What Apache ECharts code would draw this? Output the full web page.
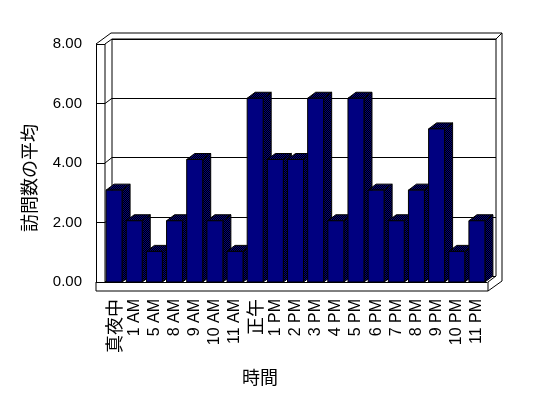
<!DOCTYPE html>
<html>
<head>
<meta charset="utf-8">
<script src="https://cdn.jsdelivr.net/npm/echarts@6/dist/echarts.min.js"></script>
<style>
  html, body { margin: 0; padding: 0; background: #fff; }
  #main { width: 548px; height: 398px; }
</style>
</head>
<body>
<div id="main"></div>
<script>
var categories = ['真夜中', '1 AM', '5 AM', '8 AM', '9 AM', '10 AM', '11 AM', '正午', '1 PM', '2 PM',
  '3 PM', '4 PM', '5 PM', '6 PM', '7 PM', '8 PM', '9 PM', '10 PM', '11 PM'];
var visits = [3, 2, 1, 2, 4, 2, 1, 6, 4, 4, 6, 2, 6, 3, 2, 3, 5, 1, 2];
var yTicks = [0, 2, 4, 6, 8];

var chart = echarts.init(document.getElementById('main'));

// dithered navy/black like the old 3d side faces
var cv = document.createElement('canvas');
cv.width = 2; cv.height = 2;
var cx = cv.getContext('2d');
cx.fillStyle = '#000000'; cx.fillRect(0, 0, 2, 2);
cx.fillStyle = '#000080'; cx.fillRect(0, 0, 1, 1); cx.fillRect(1, 1, 1, 1);
var dither = { image: cv, repeat: 'repeat' };

var font = 'Liberation Sans, Arial, sans-serif';
var cjk = 'Noto Sans CJK JP, sans-serif';

function renderBar(params, api) {
  var base = api.coord([api.value(0), 0]);
  var top = api.coord([api.value(0), api.value(1)]);
  var w = 16, dx = 8, dy = 6;
  var x0 = top[0] - w / 2, x1 = top[0] + w / 2;
  var yt = top[1], yb = base[1];
  return {
    type: 'group',
    children: [
      { type: 'polygon', shape: { points: [[x1, yt], [x1 + dx, yt - dy], [x1 + dx, yb - dy], [x1, yb]] },
        style: { fill: dither, stroke: '#000', lineWidth: 1 } },
      { type: 'polygon', shape: { points: [[x0, yt], [x1, yt], [x1 + dx, yt - dy], [x0 + dx, yt - dy]] },
        style: { fill: dither, stroke: '#000', lineWidth: 1 } },
      { type: 'rect', shape: { x: x0, y: yt, width: w, height: yb - yt },
        style: { fill: '#000080', stroke: '#000', lineWidth: 1 } }
    ]
  };
}

var option = {
  animation: false,
  grid: [
    { left: 104, top: 37, width: 383, height: 245 },   // bars
    { left: 112, top: 39, width: 384, height: 237 },   // back wall
    { left: 96, top: 44, width: 9, height: 238 }       // front axis
  ],
  xAxis: [
    {
      gridIndex: 0, type: 'category', data: categories,
      axisLine: { lineStyle: { color: '#000', width: 1 } },
      axisTick: { length: 9, lineStyle: { color: '#000' } },
      axisLabel: {
        interval: 0, rotate: 90, margin: 17, color: '#000', fontSize: 16, fontFamily: font,
        formatter: function (v) { return /[^\x00-\x7f]/.test(v) ? '{c|' + v + '}' : v; },
        rich: { c: { fontFamily: cjk, fontSize: 18, color: '#000' } }
      }
    },
    { gridIndex: 1, type: 'value', show: false },
    { gridIndex: 2, type: 'value', show: false }
  ],
  yAxis: [
    { gridIndex: 0, type: 'value', min: 0, max: 8, interval: 2, show: false },
    {
      gridIndex: 1, type: 'value', min: 0, max: 8, interval: 2,
      axisLine: { show: false }, axisTick: { show: false }, axisLabel: { show: false },
      splitLine: { show: true, lineStyle: { color: '#000', width: 1 } }
    },
    {
      gridIndex: 2, type: 'value', min: 0, max: 8, interval: 2,
      axisLine: { show: true, lineStyle: { color: '#000', width: 1 } },
      axisTick: { show: true, inside: true, length: 9, lineStyle: { color: '#000' } },
      splitLine: { show: false },
      axisLabel: { margin: 14, color: '#000', fontSize: 15, fontFamily: font,
        formatter: function (v) { return v.toFixed(2); } }
    }
  ],
  series: [
    {
      type: 'custom', xAxisIndex: 0, yAxisIndex: 0,
      renderItem: renderBar,
      data: visits.map(function (v, i) { return [i, v]; }),
      z: 5
    }
  ]
};
chart.setOption(option);

// frame of walls / floor, plus the left-wall diagonals at each tick
var ln = { stroke: '#000', lineWidth: 1 };
var frame = [
  [[96, 282], [96, 291], [488, 291], [488, 282]],
  [[96, 44], [111, 33], [502, 33], [502, 281], [488, 291]],
  [[112, 39], [496, 39], [496, 276], [488, 282]],
  [[496, 39], [502, 33]],
  [[112, 39], [112, 276]],
  [[105, 44], [105, 282]]
];
var graphics = frame.map(function (pts) {
  return { type: 'polyline', shape: { points: pts }, style: ln, z: 1 };
});
yTicks.forEach(function (v) {
  var yf = chart.convertToPixel({ yAxisIndex: 2 }, v);
  var yb = chart.convertToPixel({ yAxisIndex: 1 }, v);
  graphics.push({ type: 'line', shape: { x1: 105, y1: yf, x2: 112, y2: yb }, style: ln, z: 1 });
});
graphics.push({
  type: 'text', x: 29, y: 178, rotation: Math.PI / 2,
  style: { text: '訪問数の平均', font: '18px ' + cjk, fill: '#000', align: 'center', verticalAlign: 'middle' }
});
graphics.push({
  type: 'text', x: 260, y: 377,
  style: { text: '時間', font: '18px ' + cjk, fill: '#000', align: 'center', verticalAlign: 'middle' }
});
chart.setOption({ graphic: graphics });
</script>
</body>
</html>
